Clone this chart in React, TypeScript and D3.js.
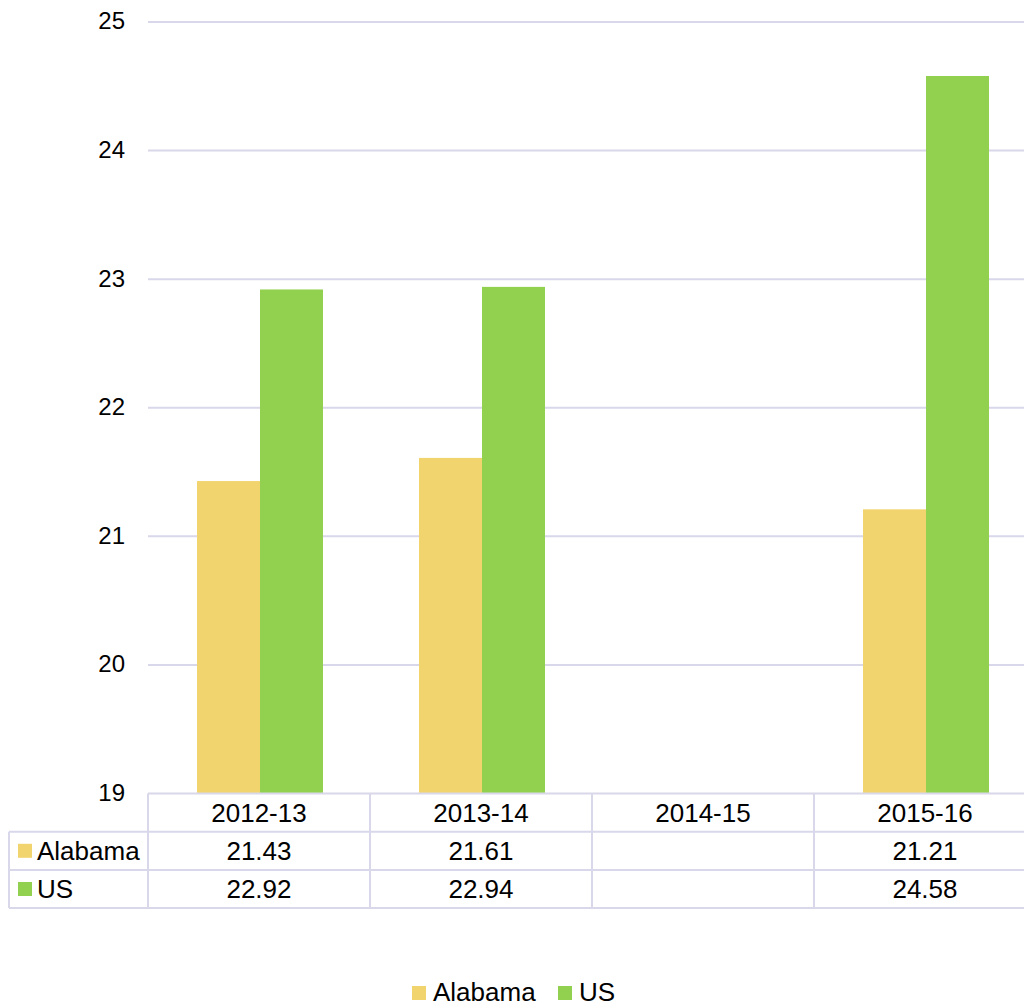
import React, { useEffect, useRef } from 'react';
import * as d3 from 'd3';

const years = ['2012-13', '2013-14', '2014-15', '2015-16'];
const alabama: (number | null)[] = [21.43, 21.61, null, 21.21];
const us: (number | null)[] = [22.92, 22.94, null, 24.58];
const yTicks = [19, 20, 21, 22, 23, 24, 25];

const series = [
  { name: 'Alabama', values: alabama, color: '#F2D46F' },
  { name: 'US', values: us, color: '#92D050' },
];

const App = () => {
  const ref = useRef<SVGSVGElement>(null);

  useEffect(() => {
    if (!ref.current) return;
    const svg = d3.select(ref.current);
    svg.selectAll('*').remove();

    const font = '"Liberation Sans", Arial, sans-serif';
    const fs = '26px';
    const grid = '#D9D7EA';
    const left = 148, right = 1036;

    const y = d3.scaleLinear().domain([19, 25]).range([793.5, 22]);
    const x = d3.scaleBand().domain(years).range([left, right]);
    const inner = d3.scaleBand().domain(series.map(s => s.name)).range([49, 175]);

    // gridlines + y labels
    svg.append('g').selectAll('line')
      .data(yTicks.slice(1))
      .enter().append('line')
      .attr('x1', left).attr('x2', 1024)
      .attr('y1', d => y(d)).attr('y2', d => y(d))
      .attr('stroke', grid).attr('stroke-width', 2);

    svg.append('g').selectAll('text')
      .data(yTicks)
      .enter().append('text')
      .attr('x', 125).attr('y', d => y(d) - 1)
      .attr('dy', '0.35em')
      .attr('text-anchor', 'end')
      .style('font-family', font).style('font-size', '24px')
      .text(d => d);

    // bars
    series.forEach(s => {
      svg.append('g').selectAll('rect')
        .data(years.map((yr, i) => ({ yr, v: s.values[i] })).filter(d => d.v != null))
        .enter().append('rect')
        .attr('x', d => (x(d.yr) as number) + (inner(s.name) as number))
        .attr('width', inner.bandwidth())
        .attr('y', d => y(d.v as number))
        .attr('height', d => y(19) - y(d.v as number))
        .attr('fill', s.color);
    });

    // data table
    const rowTop = 793.5, rowH = 38.2;
    const t = svg.append('g');
    const hline = (x1: number, yy: number) =>
      t.append('line').attr('x1', x1).attr('x2', 1024).attr('y1', yy).attr('y2', yy)
        .attr('stroke', grid).attr('stroke-width', 2);
    hline(left, rowTop);
    hline(9, rowTop + rowH);
    hline(9, rowTop + rowH * 2);
    hline(9, rowTop + rowH * 3);
    t.append('line').attr('x1', 9).attr('x2', 9)
      .attr('y1', rowTop + rowH).attr('y2', rowTop + rowH * 3)
      .attr('stroke', grid).attr('stroke-width', 2);
    years.forEach(yr => {
      const xx = x(yr) as number;
      t.append('line').attr('x1', xx).attr('x2', xx)
        .attr('y1', rowTop).attr('y2', rowTop + rowH * 3)
        .attr('stroke', grid).attr('stroke-width', 2);
      t.append('text')
        .attr('x', xx + x.bandwidth() / 2).attr('y', rowTop + rowH / 2)
        .attr('dy', '0.35em').attr('text-anchor', 'middle')
        .style('font-family', font).style('font-size', fs)
        .text(yr);
    });
    series.forEach((s, si) => {
      const cy = rowTop + rowH * (si + 1.5);
      t.append('rect').attr('x', 18).attr('y', cy - 7).attr('width', 14).attr('height', 14)
        .attr('fill', s.color);
      t.append('text').attr('x', 37).attr('y', cy).attr('dy', '0.35em')
        .style('font-family', font).style('font-size', fs).text(s.name);
      years.forEach((yr, i) => {
        const v = s.values[i];
        if (v == null) return;
        t.append('text')
          .attr('x', (x(yr) as number) + x.bandwidth() / 2).attr('y', cy)
          .attr('dy', '0.35em').attr('text-anchor', 'middle')
          .style('font-family', font).style('font-size', fs)
          .text(d3.format('.2f')(v));
      });
    });

    // legend
    const lg = svg.append('g');
    const legendX = [412, 558];
    series.forEach((s, i) => {
      lg.append('rect').attr('x', legendX[i]).attr('y', 986).attr('width', 14).attr('height', 14)
        .attr('fill', s.color);
      lg.append('text').attr('x', legendX[i] + 21).attr('y', 992).attr('dy', '0.35em')
        .style('font-family', font).style('font-size', fs).text(s.name);
    });
  }, []);

  return (
    <svg ref={ref} width={1024} height={1007}
      style={{ position: 'absolute', left: 0, top: 0, background: '#fff' }} />
  );
};

export default App;
